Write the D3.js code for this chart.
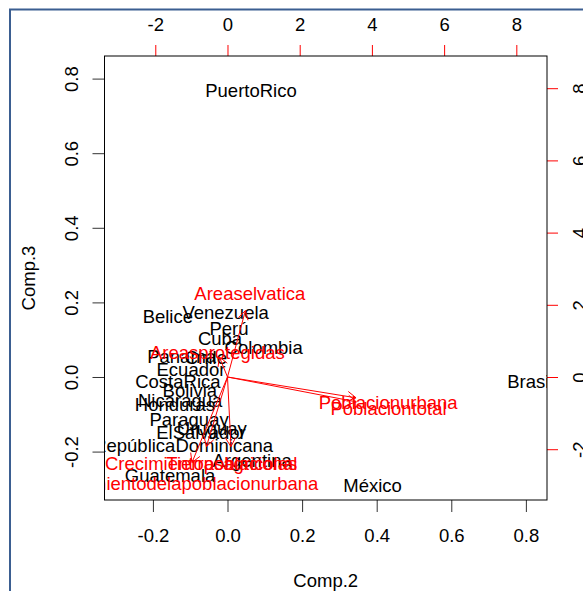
<!DOCTYPE html>
<html>
<head>
<meta charset="utf-8">
<script src="https://cdn.jsdelivr.net/npm/d3@7"></script>
<style>
  body { margin: 0; background: #fff; }
  svg { display: block; font-family: "Liberation Sans", Arial, sans-serif; }
</style>
</head>
<body>
<div id="chart"></div>
<script>
// Scores (Comp.2 / Comp.3)
const countries = ["PuertoRico", "Venezuela", "Belice", "Perú", "Cuba", "Colombia", "Panamá", "Chile",
  "Ecuador", "CostaRica", "Bolivia", "Nicaragua", "Honduras", "Paraguay", "Uruguay", "ElSalvador",
  "RepúblicaDominicana", "Argentina", "Guatemala", "México", "Brasil"];
const comp2 = [0.063, -0.005, -0.160, 0.004, -0.020, 0.097, -0.123, -0.058,
  -0.098, -0.133, -0.101, -0.127, -0.141, -0.103, -0.042, -0.071,
  -0.119, 0.066, -0.154, 0.389, 0.812];
const comp3 = [0.769, 0.172, 0.161, 0.129, 0.102, 0.078, 0.054, 0.051,
  0.021, -0.011, -0.035, -0.062, -0.075, -0.115, -0.137, -0.150,
  -0.185, -0.223, -0.263, -0.290, -0.011];

// Loadings (label positions, top/right scale)
const variables = ["Areaselvatica", "Areasprotegidas", "Poblacionurbana", "Poblaciontotal",
  "Tierrasagricolas", "Crecimientopoblacional", "Crecimientodelapoblacionurbana"];
const load2 = [0.62, -0.28, 4.45, 4.46, 0.12, -0.73, -1.23];
const load3 = [2.30, 0.69, -0.72, -0.86, -2.41, -2.41, -2.96];

const scoreTicks = [-0.2, 0.0, 0.2, 0.4, 0.6, 0.8];
const loadTicks = [-2, 0, 2, 4, 6, 8];

const W = 583, H = 591;
const box = { left: 104.5, right: 547, top: 56, bottom: 500 };
const fs = 18.5;

const svg = d3.select("#chart").append("svg")
  .attr("width", W).attr("height", H);

// frame lines of the screenshot
svg.append("path")
  .attr("d", `M10,${H} L10,9.5 L${W},9.5`)
  .attr("fill", "none").attr("stroke", "#3b5e91").attr("stroke-width", 2);

const x = d3.scaleLinear().domain([-0.3298, 0.8566]).range([box.left, box.right]);
const y = d3.scaleLinear().domain([-0.3298, 0.8606]).range([box.bottom, box.top]);
const xl = d3.scaleLinear().domain([-3.407, 8.850]).range([box.left, box.right]);
const yl = d3.scaleLinear().domain([-3.407, 8.892]).range([box.bottom, box.top]);

// axes (plain hyphen for minus, like R)
const fmt = d => d.toFixed(1);
const fmtInt = d => String(d);
const bottomAx = svg.append("g")
  .attr("transform", `translate(0,${box.bottom})`)
  .call(d3.axisBottom(x).tickValues(scoreTicks).tickFormat(fmt).tickSize(12).tickPadding(17));
const leftAx = svg.append("g")
  .attr("transform", `translate(${box.left},0)`)
  .call(d3.axisLeft(y).tickValues(scoreTicks).tickFormat(fmt).tickSize(12).tickSizeOuter(0));
const topAx = svg.append("g")
  .attr("transform", `translate(0,${box.top})`)
  .call(d3.axisTop(xl).tickValues(loadTicks).tickFormat(fmtInt).tickSize(11).tickPadding(14));
const rightAx = svg.append("g")
  .attr("transform", `translate(${box.right},0)`)
  .call(d3.axisRight(yl).tickValues(loadTicks).tickFormat(fmtInt).tickSize(11));

[bottomAx, leftAx, topAx, rightAx].forEach(g => {
  g.select(".domain").remove();
  g.selectAll("text").attr("font-size", fs).attr("font-family", "Liberation Sans, Arial, sans-serif").attr("fill", "#000");
});
bottomAx.selectAll("line").attr("stroke", "#333");
leftAx.selectAll("line").attr("stroke", "#333");
topAx.selectAll("line").attr("stroke", "#ff0000");
rightAx.selectAll("line").attr("stroke", "#ff0000");

// rotated side labels like R
leftAx.selectAll("text")
  .attr("x", null).attr("dy", null)
  .attr("text-anchor", "middle")
  .attr("transform", `translate(${78 - box.left},0) rotate(-90)`);
rightAx.selectAll("text")
  .attr("x", null).attr("dy", null)
  .attr("text-anchor", "middle")
  .attr("transform", `translate(${586 - box.right},0) rotate(-90)`);

// axis titles
svg.append("text")
  .attr("x", (box.left + box.right) / 2).attr("y", 587)
  .attr("text-anchor", "middle").attr("font-size", fs).text("Comp.2");
svg.append("text")
  .attr("transform", `translate(35,${(box.top + box.bottom) / 2}) rotate(-90)`)
  .attr("text-anchor", "middle").attr("font-size", fs).text("Comp.3");

// clip to plot region
svg.append("clipPath").attr("id", "plotclip")
  .append("rect")
  .attr("x", box.left).attr("y", box.top)
  .attr("width", box.right - box.left).attr("height", box.bottom - box.top);

const plot = svg.append("g").attr("clip-path", "url(#plotclip)");

// country labels
const scores = countries.map((c, i) => ({ name: c, c2: comp2[i], c3: comp3[i] }));
plot.append("g").selectAll("text")
  .data(scores)
  .join("text")
  .attr("x", d => x(d.c2))
  .attr("y", d => y(d.c3))
  .attr("dy", "0.35em")
  .attr("text-anchor", "middle")
  .attr("font-size", fs)
  .attr("fill", "#000")
  .text(d => d.name);

// loading arrows (to 0.8 of label position, as biplot does)
const loads = variables.map((v, i) => ({ name: v, l2: load2[i], l3: load3[i] }));
const headLen = 10, headAng = Math.PI / 6;
const arrows = plot.append("g").attr("stroke", "#ff0000").attr("fill", "none").attr("stroke-width", 1);
loads.forEach(d => {
  const x0 = xl(0), y0 = yl(0);
  const x1 = xl(0.8 * d.l2), y1 = yl(0.8 * d.l3);
  const a = Math.atan2(y1 - y0, x1 - x0);
  arrows.append("line").attr("x1", x0).attr("y1", y0).attr("x2", x1).attr("y2", y1);
  arrows.append("path").attr("d",
    `M${x1 - headLen * Math.cos(a - headAng)},${y1 - headLen * Math.sin(a - headAng)}` +
    `L${x1},${y1}` +
    `L${x1 - headLen * Math.cos(a + headAng)},${y1 - headLen * Math.sin(a + headAng)}`);
});

plot.append("g").selectAll("text")
  .data(loads)
  .join("text")
  .attr("x", d => xl(d.l2))
  .attr("y", d => yl(d.l3))
  .attr("dy", "0.35em")
  .attr("text-anchor", "middle")
  .attr("font-size", fs)
  .attr("fill", "#ff0000")
  .text(d => d.name);

// plot box
svg.append("rect")
  .attr("x", box.left).attr("y", box.top)
  .attr("width", box.right - box.left).attr("height", box.bottom - box.top)
  .attr("fill", "none").attr("stroke", "#000").attr("stroke-width", 1);
</script>
</body>
</html>
